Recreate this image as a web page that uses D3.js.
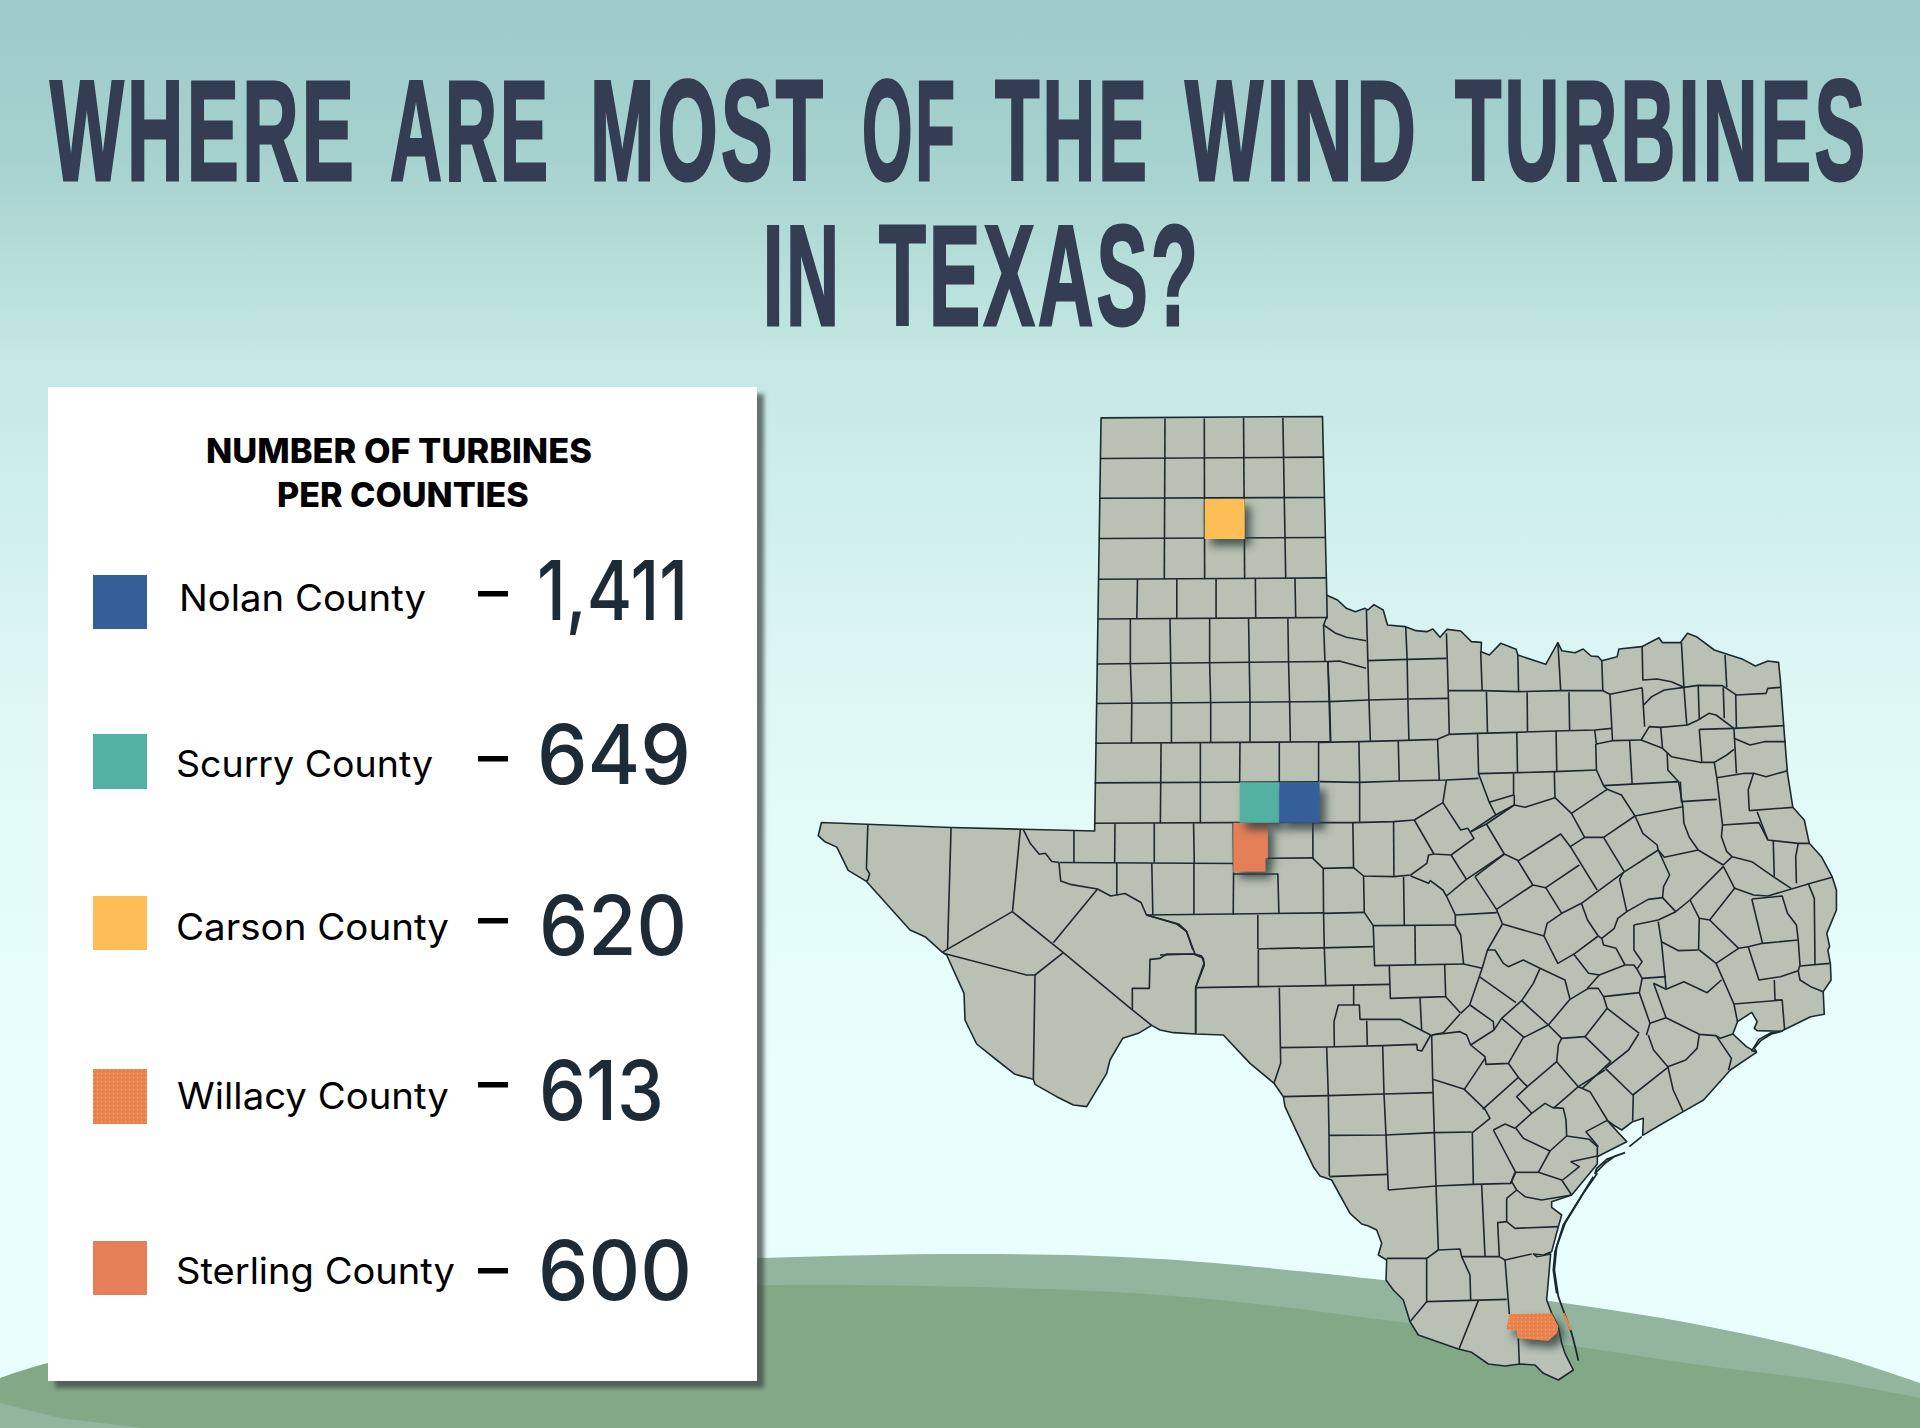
<!DOCTYPE html>
<html>
<head>
<meta charset="utf-8">
<style>
  html, body { margin: 0; padding: 0; background: #e8fffd; }
  svg { display: block; }
</style>
<script src="https://cdnjs.cloudflare.com/ajax/libs/d3/7.8.5/d3.min.js"></script>
</head>
<body>
<svg id="chart" width="1920" height="1428"></svg>
<script>
// legend data
var counties = ['Nolan County', 'Scurry County', 'Carson County', 'Willacy County', 'Sterling County'];
var turbines = [1411, 649, 620, 613, 600];
var swatchColors = ['#345f99', '#52b1a2', '#fdbe55', '#e8824f', '#e57f58'];
var titleLines = [
  ['WHERE', 'ARE', 'MOST', 'OF', 'THE', 'WIND', 'TURBINES'],
  ['IN', 'TEXAS?']
];
var panelTitle = ['NUMBER OF TURBINES', 'PER COUNTIES'];

// map traced on four sheets, each sheet has its own units (see sheets below)
var outlineNorth = [[843,78],[1463,74],[1475,575]];
var outlineEast = [[105,0],[130,25],[155,35],[182,25],[190,30],[207,14],[233,30],[245,75],[295,80],[325,92],[355,95],[372,87],[392,112],[412,88],[450,93],[480,125],[508,127],[507,155],[530,165],[562,130],[605,148],[610,165],[688,193],[722,128],[733,152],[770,158],[793,147],[815,168],[835,170],[845,182],[888,170],[893,147],[957,140],[1005,113],[1015,128],[1065,128],[1085,100],[1110,110],[1160,150],[1240,178],[1275,198],[1310,183],[1340,187],[1345,240],[1356,400],[1365,520],[1380,622],[1412,660],[1426,730],[1460,770],[1490,830],[1502,870],[1502,930],[1475,1000],[1483,1040],[1478,1050],[1485,1090],[1487,1140],[1465,1175],[1468,1243],[1430,1250],[1350,1292],[1320,1297],[1285,1318],[1265,1352],[1278,1355],[1272,1345],[1290,1322],[1320,1302],[1350,1294],[1280,1292],[1272,1285],[1280,1265],[1265,1237],[1225,1265],[1212,1302],[1250,1340],[1278,1357],[1205,1410],[1130,1500],[1073,1535]];
var outlineSouth = [[1500,525],[1448,556],[1450,505],[1418,515],[1385,540],[1360,525],[1340,510],[1400,575],[1335,608],[1312,620],[1312,642],[1235,735],[1175,755],[1175,772],[1205,795],[1195,830],[1175,905],[1150,915],[1120,912],[1130,920],[1172,912],[1160,1050],[1175,1090],[1195,1130],[1205,1180],[1215,1210],[1240,1260],[1195,1290],[1150,1270],[1125,1245],[1080,1242],[1035,1248],[985,1242],[935,1207],[895,1197],[775,1155],[750,1115],[730,1050],[700,1020],[678,990],[680,930],[655,915],[665,880],[650,840],[625,828],[605,822],[570,790],[515,690],[480,678],[460,650],[410,545],[375,470],[370,440],[342,400],[270,340],[190,255],[107,252],[40,248],[0,240]];
var outlineBend = [[815,376],[775,400],[728,415],[690,480],[680,520],[620,620],[580,615],[530,590],[465,553],[460,538],[405,523],[350,480],[290,432],[255,360],[252,280],[200,165],[185,155],[135,110],[90,90]];
var outlineWest = [[185,1375],[135,1345],[103,1280],[70,1265],[51,1248],[60,1211],[423,1225],[625,1230],[825,1235]];

var linesWest = [
  [[842,192],[1465,188]], [[840,303],[1468,301]], [[838,416],[1470,413]], [[836,530],[1473,526]],
  [[835,641],[1475,637]], [[833,767],[1478,760]], [[830,878],[1483,872]], [[827,989],[1486,985]],
  [[825,1100],[1452,1097]], [[825,1213],[1455,1210]], [[1475,575],[1476,640]],
  [[1022,80],[1020,530]], [[1132,80],[1133,530]], [[1242,78],[1245,530]], [[1352,78],[1360,527]],
  [[945,530],[943,641]], [[1055,530],[1055,641]], [[1165,530],[1165,640]], [[1275,528],[1276,638]], [[1386,527],[1388,637]],
  [[925,641],[925,768],[929,878],[928,989]], [[1036,641],[1038,768],[1040,878],[1040,989]],
  [[1147,641],[1147,765],[1150,878],[1150,987]], [[1256,641],[1258,765],[1260,875],[1260,987]],
  [[1366,640],[1368,762],[1371,875],[1373,985]], [[1478,760],[1483,872],[1486,985]],
  [[1011,989],[1009,1213]], [[1121,989],[1121,1213]], [[1232,988],[1231,1100]], [[1342,987],[1342,1098]], [[1452,985],[1452,1097]],
  [[882,1213],[881,1323]], [[992,1213],[992,1323]], [[1102,1213],[1104,1325]], [[1213,1213],[1214,1348]],
  [[767,1235],[767,1323]], [[728,1323],[1214,1326]], [[1214,1355],[1338,1355],[1341,1467]], [[1310,1311],[1438,1310]],
  [[1103,1325],[1103,1470]], [[1214,1350],[1213,1470]], [[985,1325],[988,1470]], [[887,1325],[887,1415]],
  [[970,1470],[1468,1464]], [[1282,1470],[1282,1565]], [[1282,1565],[1400,1562]],
  [[190,1217],[186,1340],[195,1355],[190,1372],[185,1375]], [[423,1225],[413,1568]], [[617,1230],[595,1460]],
  [[625,1230],[645,1270],[670,1300],[687,1297],[705,1320],[725,1323],[730,1375],[760,1385],[833,1397],[870,1417],[910,1410],[955,1435],[970,1470],[1060,1495],[1082,1515],[1100,1568]]
];

var linesBend = [
  [[397,35],[185,158]], [[397,35],[550,158],[755,328],[815,376]], [[520,128],[652,-32]],
  [[190,160],[440,225],[465,225],[550,158]], [[465,225],[460,538]],
  [[757,328],[757,265],[808,265],[810,178],[840,175],[860,162],[945,162],[965,168],[972,190],[947,262],[947,402]],
  [[945,162],[920,95],[890,72],[800,45]]
];

var linesEast = [
  [[75,50],[66,75],[70,185]], [[66,75],[100,100],[130,112],[185,122]], [[78,185],[110,183],[185,205]],
  [[186,30],[190,182],[193,300],[197,422]], [[296,80],[300,178],[302,297],[305,420]], [[410,100],[415,272],[418,403]],
  [[506,155],[510,272]], [[610,165],[612,275]], [[722,128],[730,272]], [[845,182],[848,272]],
  [[78,185],[85,425]], [[190,182],[300,178],[410,175]], [[82,305],[192,300],[302,297],[415,295]],
  [[52,427],[165,425],[275,422],[385,418],[418,403],[497,400],[605,397],[716,393],[825,390],[873,385]],
  [[415,272],[510,272],[612,275],[730,272],[848,272],[868,283],[958,263]],
  [[522,275],[525,398]], [[636,277],[637,395]], [[753,277],[755,390]], [[868,283],[875,422]],
  [[825,390],[830,432],[875,422],[955,420]], [[165,425],[167,547],[167,665]], [[275,422],[278,543]], [[385,418],[390,540]],
  [[497,400],[500,521]], [[607,397],[609,518]], [[717,393],[719,515]], [[828,432],[830,510],[850,557]], [[923,422],[930,552]],
  [[55,545],[165,547],[278,543],[410,540],[500,535]], [[500,521],[609,518],[712,515],[830,510]], [[410,540],[400,608],[320,660]],
  [[500,521],[530,607],[548,645]], [[598,520],[598,585],[530,607]], [[600,585],[600,615],[548,645],[478,695]],
  [[712,515],[714,593]], [[600,615],[630,622],[714,593],[760,640],[797,712]], [[850,557],[860,568],[760,640]],
  [[860,568],[900,585],[938,648],[850,712],[797,712],[757,740],[730,702],[612,782],[572,762]],
  [[850,557],[1060,545],[1072,620],[938,648]], [[955,420],[1015,445],[1040,470],[1120,487],[1160,487],[1195,465],[1215,448]],
  [[955,420],[978,380],[1010,382],[1015,445]], [[1010,382],[1085,375],[1115,360]], [[1028,460],[1030,510],[1060,545]],
  [[958,140],[960,240],[1000,237],[1040,245],[1075,262]], [[962,315],[985,290],[1020,270],[1075,262],[1115,256],[1183,257],[1215,280],[1222,285],[1305,280],[1310,265],[1345,262]],
  [[958,263],[965,380]], [[1068,128],[1075,262],[1083,375]], [[1190,165],[1195,262]], [[1115,256],[1118,360]], [[1185,262],[1188,355]], [[1220,285],[1222,385]],
  [[1115,360],[1145,340],[1165,345],[1215,385]], [[1118,388],[1125,485]], [[1118,388],[1215,385]],
  [[1160,487],[1167,533],[1183,675]], [[1167,533],[1245,520],[1270,520],[1255,570],[1258,632]], [[1065,545],[1068,605],[1167,598]],
  [[1215,385],[1222,520]], [[1215,385],[1356,377]], [[1215,415],[1260,435],[1300,425],[1360,425]], [[1270,520],[1305,530],[1365,512]],
  [[1258,632],[1380,622]], [[1183,675],[1285,668],[1310,720],[1395,730],[1426,730]], [[1280,635],[1310,720]],
  [[1183,675],[1180,710],[1195,755],[1210,770],[1265,785],[1328,832],[1375,865]], [[1325,720],[1328,830]], [[1395,730],[1388,770],[1390,850]],
  [[1210,770],[1185,795],[1115,750]], [[1072,620],[1075,670],[1090,712],[1115,750],[1020,772],[1003,750]],
  [[1185,798],[1217,865],[1147,960],[1118,955],[1092,900],[1185,800]], [[1217,865],[1270,885],[1310,888],[1430,850],[1490,832]],
  [[1265,897],[1350,888],[1365,940],[1390,975],[1395,1020],[1295,1030],[1265,897]],
  [[1295,1030],[1255,1040],[1285,1140],[1345,1130],[1395,1112],[1400,1095],[1395,1020]], [[1423,850],[1440,895],[1442,1092]],
  [[1400,1098],[1483,1090]], [[1395,1112],[1400,1140],[1430,1160],[1465,1175]], [[1328,1140],[1330,1200],[1350,1200],[1357,1290]],
  [[1215,1212],[1350,1200]], [[1255,1040],[1228,1045],[1165,1090],[1118,1050]], [[1147,960],[1228,1045]], [[1118,955],[1116,1050]],
  [[1116,1050],[1060,1052],[1012,1025],[1003,965]], [[1165,1090],[1215,1212],[1225,1265]], [[1052,935],[1003,960],[935,975]],
  [[1092,900],[1052,935],[1015,893],[975,898],[915,935]], [[1015,893],[1018,860],[1035,825],[1003,750]],
  [[1003,750],[905,818],[895,838],[915,935]], [[938,648],[960,700],[1000,735],[1003,750]], [[850,712],[908,815]], [[757,740],[832,870]],
  [[782,795],[688,863],[652,855],[610,782]], [[688,863],[733,940]], [[905,818],[788,910],[733,940],[692,970],[683,1008],[567,972]],
  [[652,855],[550,928],[490,830]], [[550,928],[567,972]], [[788,910],[805,960],[835,1008]], [[835,1008],[770,1060],[722,1090],[683,1008]],
  [[845,1015],[850,1035],[885,1045],[910,1095],[935,1095],[945,1110],[958,1135],[1025,1130]], [[835,1008],[845,1015],[880,985],[890,955],[915,935]],
  [[935,975],[935,1050],[958,1085],[945,1105]], [[1012,1025],[1025,1165]],
  [[766,1062],[808,1120],[838,1125],[910,1095]], [[838,1125],[805,1165]], [[850,1190],[950,1178],[958,1135]], [[950,1178],[980,1270],[970,1305]],
  [[805,1165],[835,1165],[850,1190],[860,1225],[950,1300]], [[860,1225],[798,1310],[870,1385],[790,1465]], [[855,1405],[932,1485],[1030,1402]],
  [[948,1302],[920,1350],[855,1405]], [[980,1270],[1025,1253],[1118,1303],[1165,1307],[1177,1315],[1212,1302]],
  [[975,1305],[990,1350],[1030,1400],[1080,1380],[1112,1345],[1118,1303]], [[1030,1400],[1045,1470],[1073,1535]],
  [[1165,1307],[1208,1375],[1200,1410]], [[990,1150],[1025,1253]], [[990,1150],[1025,1168],[1075,1145],[1140,1178],[1180,1140]],
  [[36,668],[148,668],[262,665],[320,660]],
  [[320,660],[375,762],[423,765],[466,838],[410,888],[435,945],[551,938]], [[400,608],[450,690],[470,685],[487,715],[423,765]],
  [[478,695],[522,672],[572,762],[466,838]], [[572,762],[490,830]], [[522,672],[600,615]], [[262,665],[263,828]], [[148,668],[150,803]],
  [[36,668],[36,775],[65,805],[150,803],[178,828],[263,830],[310,825],[355,790],[360,765],[375,762]],
  [[178,828],[180,937],[205,977],[435,975]], [[65,805],[66,940],[68,1042],[72,1157]], [[66,940],[180,937]], [[0,1045],[205,1040]],
  [[205,977],[209,1097],[458,1092]], [[290,830],[292,975]], [[322,978],[323,1095]], [[435,945],[435,975],[450,1005],[458,1092],[510,1105]],
  [[310,828],[360,850],[365,842],[400,870],[410,888]], [[510,1105],[525,1050],[567,972]], [[250,1097],[253,1195],[408,1190],[405,1092]],
  [[408,1190],[450,1240]], [[510,1105],[475,1215],[450,1240]]
];

var linesSouth = [
  [[107,113],[107,252]], [[107,113],[295,110],[495,107],[690,103]], [[295,110],[295,0]], [[358,113],[362,340],[342,400]],
  [[0,15],[100,12],[130,25],[133,45],[107,113]], [[581,108],[581,165],[535,165],[522,215],[523,288]],
  [[581,165],[598,165],[600,208],[720,208],[812,255]], [[620,212],[622,285]],
  [[360,293],[500,291],[668,287],[770,283],[772,300],[785,303],[812,255]], [[780,143],[785,240]],
  [[900,192],[850,248],[815,255]],
  [[500,291],[505,437],[507,556],[508,678]], [[668,287],[672,432],[678,555],[685,720]], [[815,255],[818,388],[823,548],[828,708],[835,900]],
  [[370,440],[505,437],[672,432],[818,428]], [[507,556],[678,555],[823,548],[935,546]], [[508,680],[682,673]],
  [[685,720],[828,708],[940,703],[1052,700],[1065,667]], [[818,388],[913,418],[975,478],[990,505],[937,548],[940,703]], [[913,418],[975,325]],
  [[982,0],[1005,0],[1030,40],[1045,50],[1090,30],[1140,55]], [[958,80],[1068,158]], [[1140,55],[1120,100],[1085,152],[1025,205],[1002,240]],
  [[930,165],[1000,215],[1002,240]], [[1085,152],[1165,225]], [[1165,225],[1092,262],[1025,205]], [[1165,225],[1230,148],[1215,90],[1140,55]],
  [[1230,148],[1285,115]], [[1275,260],[1205,265],[1165,225]],
  [[815,255],[900,245],[920,255],[932,285],[975,320],[978,343],[1045,340],[1090,262]], [[932,285],[1002,240]],
  [[1045,340],[1075,382],[968,478]], [[1075,382],[1102,410],[1190,335],[1195,285],[1205,265]], [[1190,335],[1255,410],[1335,360]],
  [[1102,410],[1070,440],[1115,490],[1155,460],[1178,473],[1210,475],[1218,510],[1220,558],[1288,568],[1312,590],[1312,620]],
  [[1255,410],[1180,475]], [[1255,410],[1290,425],[1342,510]], [[1068,535],[1090,565],[1170,603],[1220,558]],
  [[1170,603],[1135,667],[1205,690],[1235,735]], [[1067,667],[1135,667]], [[1000,540],[1067,667],[1052,700]],
  [[1000,540],[1035,522],[1065,535],[1115,490]], [[1055,695],[1070,720],[1095,740],[1145,750],[1235,735]], [[1040,745],[1070,720]],
  [[1040,745],[1040,815],[1013,818],[1018,920]], [[1040,815],[1065,835],[1195,830]], [[1018,920],[1035,930],[1115,912]], [[1035,930],[1048,1092]],
  [[965,705],[975,918]], [[835,900],[800,925],[800,1055],[750,1115]], [[835,900],[900,897],[905,920],[1018,920]],
  [[905,920],[930,975],[932,1050]], [[680,925],[800,925]], [[800,1055],[1040,1048]], [[955,1052],[897,1197]], [[1075,1165],[1078,1242]],
  [[1340,512],[1278,545],[1315,590]], [[1232,635],[1312,618]], [[1232,635],[1258,650],[1208,690]],
  [[1420,432],[1418,512]]
];

// barrier islands off the coast, no fill
var islandsSouth = [
  [[1312,670],[1270,730],[1215,820],[1190,890],[1183,960],[1195,1040],[1215,1095],[1235,1150],[1248,1200],[1255,1232]],
  [[1300,680],[1210,825],[1185,905],[1180,960],[1190,1030]],
  [[1395,608],[1365,618],[1335,640],[1305,670],[1310,655],[1340,628],[1395,608]],
  [[1445,560],[1408,590]]
];

var carsonShape = [[1133,305],[1245,305],[1245,417],[1133,417]];
var scurryShape = [[1231,1098],[1342,1098],[1342,1212],[1231,1212]];
var nolanShape = [[1342,1098],[1455,1098],[1455,1212],[1342,1212]];
var sterlingShape = [[1213,1212],[1310,1212],[1310,1310],[1303,1312],[1303,1348],[1213,1348]];
var willacyShape = [[1048,1092],[1175,1090],[1195,1130],[1190,1150],[1165,1172],[1075,1165],[1070,1142],[1040,1138]];
var willacyIsland = [[1210,1090],[1233,1140]];

// hills
var hillLightTop = [[0,1395],[200,1320],[500,1270],[760,1258],[980,1254],[1160,1259],[1400,1282],[1550,1301],[1700,1325],[1833,1355],[1920,1383]];
var hillDarkTop = [[0,1378],[48,1363],[300,1315],[600,1292],[800,1285],[1160,1295],[1400,1322],[1573,1346],[1700,1365],[1833,1382],[1920,1398]];
var hillDarkFoot = [[0,1403],[60,1418],[143,1428]];

var svg = d3.select('#chart');
var defs = svg.append('defs');

var grad = defs.append('linearGradient').attr('id', 'sky')
  .attr('x1', 0).attr('y1', 0).attr('x2', 0).attr('y2', 1);
[[0, '#9ecbca'], [0.1, '#a4d0ce'], [0.25, '#c4e8e4'], [0.5, '#dff8f6'], [0.75, '#e8fffd'], [1, '#e8fffd']].forEach(function(s) {
  grad.append('stop').attr('offset', s[0]).attr('stop-color', s[1]);
});

var panelShadow = defs.append('filter').attr('id', 'panelShadow')
  .attr('x', '-5%').attr('y', '-5%').attr('width', '110%').attr('height', '110%');
panelShadow.append('feDropShadow').attr('dx', 7).attr('dy', 7).attr('stdDeviation', 2)
  .attr('flood-color', '#3f4a47').attr('flood-opacity', 0.75);

var countyShadow = defs.append('filter').attr('id', 'countyShadow')
  .attr('x', '-50%').attr('y', '-50%').attr('width', '200%').attr('height', '200%');
countyShadow.append('feDropShadow').attr('dx', 6).attr('dy', 7).attr('stdDeviation', 4)
  .attr('flood-color', '#33403c').attr('flood-opacity', 0.8);

var dots = defs.append('pattern').attr('id', 'willacyDots')
  .attr('width', 4).attr('height', 4).attr('patternUnits', 'userSpaceOnUse');
dots.append('rect').attr('width', 4).attr('height', 4).attr('fill', '#e8804f');
dots.append('rect').attr('x', 1).attr('y', 1).attr('width', 1.2).attr('height', 1.2).attr('fill', '#f6b154');

svg.append('rect').attr('width', 1920).attr('height', 1428).attr('fill', 'url(#sky)');

// hills
var hillLine = d3.line().curve(d3.curveCatmullRom);
svg.append('path')
  .attr('d', hillLine(hillLightTop) + 'L1920,1428L0,1428Z')
  .attr('fill', '#93b49d');
svg.append('path')
  .attr('d', hillLine(hillDarkTop) + 'L1920,1428L' + hillDarkFoot.slice().reverse().map(String).join('L') + 'Z')
  .attr('fill', '#83a887');

// squeeze a text sideways so it runs from x0 to x1
function fitText(sel, x0, x1, y, spacing) {
  var natural = sel.node().getComputedTextLength() - (spacing || 0);
  sel.attr('transform', 'translate(' + x0 + ',' + y + ') scale(' + ((x1 - x0) / natural) + ',1)');
}

// title
var titleBox = [
  [[50,354],[390,548],[590,823],[862,955],[995,1147],[1185,1416],[1455,1865]],
  [[763,839],[879,1198]]
];
var titleBaseline = [180, 325];
titleLines.forEach(function(words, i) {
  words.forEach(function(word, j) {
    var t = svg.append('text')
      .style('font-family', '"Liberation Sans Narrow", "Liberation Sans", sans-serif')
      .style('font-weight', 700)
      .style('font-size', '143px')
      .style('letter-spacing', '6px')
      .style('fill', '#343d52')
      .style('stroke', '#343d52')
      .style('stroke-width', 3)
      .text(word);
    fitText(t, titleBox[i][j][0], titleBox[i][j][1], titleBaseline[i], 6);
  });
});

// panel
svg.append('rect')
  .attr('x', 48).attr('y', 387).attr('width', 709).attr('height', 994)
  .attr('fill', '#fff').attr('filter', 'url(#panelShadow)');

var headX = [[206,592],[277,529]];
var headY = [463, 507];
panelTitle.forEach(function(txt, i) {
  var t = svg.append('text')
    .style('font-family', 'Inter, sans-serif').style('font-weight', 800).style('font-size', '34px')
    .style('fill', '#000').text(txt);
  fitText(t, headX[i][0], headX[i][1], headY[i]);
});

// legend rows, layout read per row since the rows are not evenly placed
var swatchY = [[575,629],[734,789],[896,950],[1069,1124],[1241,1295]];
var labelX = [[179,426],[176,433],[176,449],[177,449],[176,455]];
var labelY = [611, 777, 940, 1109, 1284];
var dashY = [594, 759, 921, 1085, 1271];
var valueX = [[537,688],[537,691],[539,687],[539,664],[538,692]];
var valueY = [620, 784, 955, 1120, 1300];
var fmt = d3.format(',');

counties.forEach(function(name, i) {
  svg.append('rect')
    .attr('x', 93).attr('y', swatchY[i][0]).attr('width', 54).attr('height', swatchY[i][1] - swatchY[i][0])
    .attr('fill', name === 'Willacy County' ? 'url(#willacyDots)' : swatchColors[i]);
  var label = svg.append('text')
    .style('font-family', 'Inter, sans-serif').style('font-weight', 400).style('font-size', '37px')
    .style('fill', '#000').text(name);
  fitText(label, labelX[i][0], labelX[i][1], labelY[i]);
  svg.append('rect')
    .attr('x', 478).attr('y', dashY[i] - 3).attr('width', 30).attr('height', 5.5).attr('fill', '#000');
  var value = svg.append('text')
    .style('font-family', 'Inter, sans-serif').style('font-weight', 500).style('font-size', '82px')
    .style('fill', '#1c2b36').text(fmt(turbines[i]));
  fitText(value, valueX[i][0], valueX[i][1], valueY[i]);
});

// map sheets: sheet units -> page pixels
function sheet(x0, x1, xr0, xr1, y0, y1, yr0, yr1) {
  return {
    x: d3.scaleLinear().domain([x0, x1]).range([xr0, xr1]),
    y: d3.scaleLinear().domain([y0, y1]).range([yr0, yr1])
  };
}
var west = sheet(0, 1568, 800, 1360, 0, 1568, 390, 950);
var east = sheet(0, 1568, 1300, 1860, 0, 1500, 600, 1100);
var south = sheet(0, 1500, 1160, 1660, 0, 1410, 950, 1420);
var bend = sheet(0, 1200, 880, 1280, 0, 720, 900, 1140);

function onSheet(s) {
  return function(d) { return [s.x(d[0]), s.y(d[1])]; };
}
var mapLine = d3.line();
function lineOn(s) {
  return function(d) { return mapLine(d.map(onSheet(s))); };
}

var outline = [].concat(
  outlineNorth.map(onSheet(west)),
  outlineEast.map(onSheet(east)),
  outlineSouth.map(onSheet(south)),
  outlineBend.map(onSheet(bend)),
  outlineWest.map(onSheet(west))
);

var map = svg.append('g')
  .attr('fill', 'none').attr('stroke', '#1c2a30').attr('stroke-width', 1.6).attr('stroke-linejoin', 'round');

map.append('path').attr('d', mapLine(outline) + 'Z').attr('fill', '#b8c1b3');

[[linesWest, west], [linesEast, east], [linesSouth, south], [linesBend, bend]].forEach(function(set) {
  map.append('g').selectAll('path').data(set[0]).enter().append('path').attr('d', lineOn(set[1]));
});
map.append('g').selectAll('path').data(islandsSouth).enter().append('path')
  .attr('d', lineOn(south)).attr('stroke-width', 1.8);

// highlighted counties
var highlights = [
  [carsonShape, west, swatchColors[2]],
  [sterlingShape, west, swatchColors[4]],
  [scurryShape, west, swatchColors[1]],
  [nolanShape, west, swatchColors[0]],
  [willacyShape, south, 'url(#willacyDots)']
];
svg.append('g').selectAll('path').data(highlights).enter().append('path')
  .attr('d', function(d) { return mapLine(d[0].map(onSheet(d[1]))) + 'Z'; })
  .attr('fill', function(d) { return d[2]; })
  .attr('filter', 'url(#countyShadow)');
svg.append('path')
  .attr('d', lineOn(south)(willacyIsland))
  .attr('fill', 'none').attr('stroke', swatchColors[3]).attr('stroke-width', 2.5);
</script>
</body>
</html>
